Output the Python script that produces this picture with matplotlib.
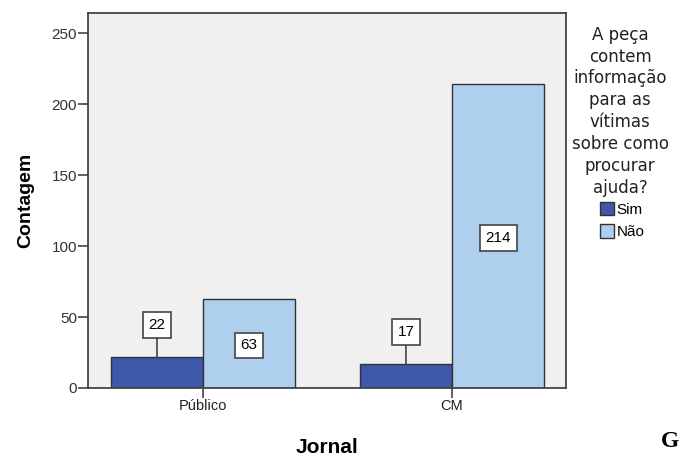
import matplotlib.pyplot as plt
import numpy as np

# data
jornais = ['Público', 'CM']
series = ['Sim', 'Não']
sim = [22, 17]
nao = [63, 214]
yticks = [0, 50, 100, 150, 200, 250]

cor_sim = '#3E58AC'
cor_nao = '#AECFEE'
box = dict(boxstyle='square,pad=0.38', fc='white', ec='#444444', lw=1.2)

fig = plt.figure(figsize=(6.8, 4.57), dpi=100)
ax = fig.add_axes([0.1294, 0.151, 0.703, 0.820])
ax.set_facecolor('#F0F0F0')

x = np.arange(len(jornais))
w = 0.37
b1 = ax.bar(x - w / 2, sim, w, color=cor_sim, edgecolor='#333333', lw=1.0, label=series[0])
b2 = ax.bar(x + w / 2, nao, w, color=cor_nao, edgecolor='#333333', lw=1.0, label=series[1])

# labels: small bars get a box above with a leader line, tall bars a box in the middle
for xi, v in zip(x - w / 2, sim):
    ax.annotate(str(v), xy=(xi, v), xytext=(xi, v + 22.5), ha='center', va='center',
                fontsize=11, fontfamily='Liberation Sans', bbox=box,
                arrowprops=dict(arrowstyle='-', color='#444444', lw=1.2, shrinkA=0, shrinkB=0))
for xi, v in zip(x + w / 2, nao):
    ax.text(xi, v / 2 - 1.5, str(v), ha='center', va='center', fontsize=11,
            fontfamily='Liberation Sans', bbox=box)

ax.set_xlim(-0.462, 1.458)
ax.set_ylim(0, 264)
ax.set_xticks(x)
ax.set_xticklabels(jornais, fontsize=10.5, fontfamily='Liberation Sans', color='#222222')
ax.set_yticks(yticks)
ax.set_yticklabels([str(t) for t in yticks], fontsize=11, fontfamily='Liberation Sans', color='#333333')
ax.tick_params(axis='both', direction='out', length=7, width=1.2, color='#444444', pad=1)
for s in ax.spines.values():
    s.set_color('#444444')
    s.set_linewidth(1.3)

ax.set_ylabel('Contagem', fontsize=14, fontweight='bold', fontfamily='Liberation Sans', labelpad=12)
ax.set_xlabel('Jornal', fontsize=15, fontweight='bold', fontfamily='Liberation Sans', labelpad=18)

# legend title and entries
fig.text(0.912, 0.944, 'A peça\ncontem\ninformação\npara as\nvítimas\nsobre como\nprocurar\najuda?',
         ha='center', va='top', fontsize=12, fontfamily='DejaVu Sans', linespacing=1.28, color='#222222')
leg = fig.legend(handles=[b1, b2], labels=series, loc='upper left', bbox_to_anchor=(0.882, 0.558),
                 frameon=False, prop={'family': 'Liberation Sans', 'size': 11},
                 handlelength=0.95, handleheight=0.95, handletextpad=0.15, labelspacing=0.5,
                 borderpad=0, borderaxespad=0)

# stray letter from the source page
fig.text(0.998, 0.01, 'G', fontsize=17, fontweight='bold', fontfamily='Liberation Serif', ha='right', va='bottom')

plt.savefig('out.png', dpi=100)
